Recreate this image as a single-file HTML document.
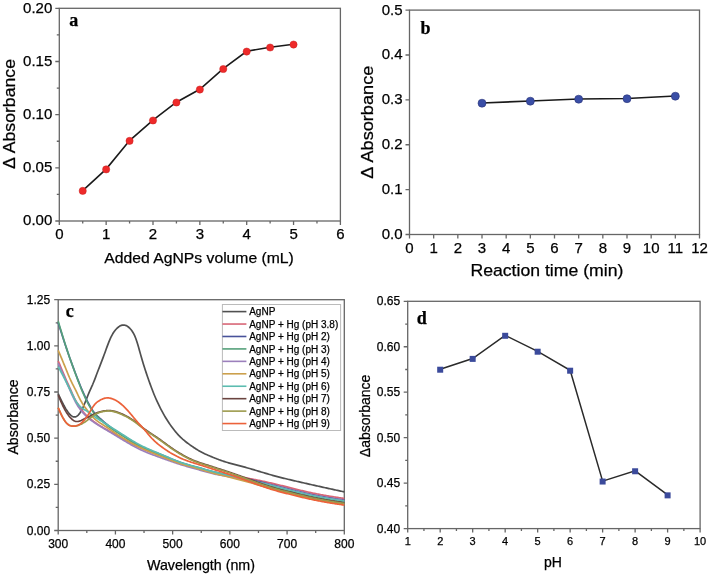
<!DOCTYPE html>
<html><head><meta charset="utf-8"><style>html,body{margin:0;padding:0;background:#fff;}svg{display:block;will-change:transform;} text{stroke:#000;stroke-width:0.25px;}</style></head><body>
<svg width="708" height="575" viewBox="0 0 708 575" font-family='"Liberation Sans", sans-serif' fill="#000">
<rect width="708" height="575" fill="#fff"/>
<rect x="59.30" y="8.30" width="281.10" height="212.70" fill="none" stroke="#666" stroke-width="1.3"/>
<path d="M59.30,221.00v4M106.15,221.00v4M153.00,221.00v4M199.85,221.00v4M246.70,221.00v4M293.55,221.00v4M340.40,221.00v4M82.72,221.00v2.5M129.57,221.00v2.5M176.42,221.00v2.5M223.27,221.00v2.5M270.12,221.00v2.5M316.97,221.00v2.5M59.30,221.00h-4M59.30,167.82h-4M59.30,114.65h-4M59.30,61.48h-4M59.30,8.30h-4M59.30,194.41h-2.5M59.30,141.24h-2.5M59.30,88.06h-2.5M59.30,34.89h-2.5" stroke="#666" stroke-width="1.3" fill="none"/>
<text x="59.30" y="239.30" text-anchor="middle" font-size="15">0</text>
<text x="106.15" y="239.30" text-anchor="middle" font-size="15">1</text>
<text x="153.00" y="239.30" text-anchor="middle" font-size="15">2</text>
<text x="199.85" y="239.30" text-anchor="middle" font-size="15">3</text>
<text x="246.70" y="239.30" text-anchor="middle" font-size="15">4</text>
<text x="293.55" y="239.30" text-anchor="middle" font-size="15">5</text>
<text x="340.40" y="239.30" text-anchor="middle" font-size="15">6</text>
<text x="52.30" y="225.20" text-anchor="end" font-size="15">0.00</text>
<text x="52.30" y="172.02" text-anchor="end" font-size="15">0.05</text>
<text x="52.30" y="118.85" text-anchor="end" font-size="15">0.10</text>
<text x="52.30" y="65.68" text-anchor="end" font-size="15">0.15</text>
<text x="52.30" y="12.50" text-anchor="end" font-size="15">0.20</text>
<path d="M82.72,190.58 L106.15,169.10 L129.57,140.60 L153.00,120.18 L176.42,102.21 L199.85,89.23 L223.27,68.71 L246.70,51.27 L270.12,47.22 L293.55,44.25" stroke="#1a1a1a" stroke-width="1.6" fill="none"/>
<circle cx="82.72" cy="190.88" r="3.6" fill="#ee2a2a" stroke="#c82020" stroke-width="0.5"/>
<circle cx="106.15" cy="169.40" r="3.6" fill="#ee2a2a" stroke="#c82020" stroke-width="0.5"/>
<circle cx="129.57" cy="140.90" r="3.6" fill="#ee2a2a" stroke="#c82020" stroke-width="0.5"/>
<circle cx="153.00" cy="120.48" r="3.6" fill="#ee2a2a" stroke="#c82020" stroke-width="0.5"/>
<circle cx="176.42" cy="102.51" r="3.6" fill="#ee2a2a" stroke="#c82020" stroke-width="0.5"/>
<circle cx="199.85" cy="89.53" r="3.6" fill="#ee2a2a" stroke="#c82020" stroke-width="0.5"/>
<circle cx="223.27" cy="69.01" r="3.6" fill="#ee2a2a" stroke="#c82020" stroke-width="0.5"/>
<circle cx="246.70" cy="51.57" r="3.6" fill="#ee2a2a" stroke="#c82020" stroke-width="0.5"/>
<circle cx="270.12" cy="47.52" r="3.6" fill="#ee2a2a" stroke="#c82020" stroke-width="0.5"/>
<circle cx="293.55" cy="44.55" r="3.6" fill="#ee2a2a" stroke="#c82020" stroke-width="0.5"/>
<text x="199.1" y="262.7" text-anchor="middle" font-size="15.5" textLength="189.5" lengthAdjust="spacingAndGlyphs">Added AgNPs volume (mL)</text>
<text transform="translate(15,114) rotate(-90)" text-anchor="middle" font-size="17" textLength="110" lengthAdjust="spacingAndGlyphs">Δ Absorbance</text>
<text x="69.3" y="25.9" font-family='"Liberation Serif", serif' font-weight="bold" font-size="18">a</text>
<rect x="409.50" y="10.10" width="290.00" height="224.40" fill="none" stroke="#666" stroke-width="1.3"/>
<path d="M409.50,234.50v4M433.67,234.50v4M457.83,234.50v4M482.00,234.50v4M506.17,234.50v4M530.33,234.50v4M554.50,234.50v4M578.67,234.50v4M602.83,234.50v4M627.00,234.50v4M651.17,234.50v4M675.33,234.50v4M699.50,234.50v4M409.50,234.50h-4M409.50,189.62h-4M409.50,144.74h-4M409.50,99.86h-4M409.50,54.98h-4M409.50,10.10h-4" stroke="#666" stroke-width="1.3" fill="none"/>
<text x="409.50" y="253.30" text-anchor="middle" font-size="15">0</text>
<text x="433.67" y="253.30" text-anchor="middle" font-size="15">1</text>
<text x="457.83" y="253.30" text-anchor="middle" font-size="15">2</text>
<text x="482.00" y="253.30" text-anchor="middle" font-size="15">3</text>
<text x="506.17" y="253.30" text-anchor="middle" font-size="15">4</text>
<text x="530.33" y="253.30" text-anchor="middle" font-size="15">5</text>
<text x="554.50" y="253.30" text-anchor="middle" font-size="15">6</text>
<text x="578.67" y="253.30" text-anchor="middle" font-size="15">7</text>
<text x="602.83" y="253.30" text-anchor="middle" font-size="15">8</text>
<text x="627.00" y="253.30" text-anchor="middle" font-size="15">9</text>
<text x="651.17" y="253.30" text-anchor="middle" font-size="15">10</text>
<text x="675.33" y="253.30" text-anchor="middle" font-size="15">11</text>
<text x="699.50" y="253.30" text-anchor="middle" font-size="15">12</text>
<text x="402.50" y="239.00" text-anchor="end" font-size="15">0.0</text>
<text x="402.50" y="194.12" text-anchor="end" font-size="15">0.1</text>
<text x="402.50" y="149.24" text-anchor="end" font-size="15">0.2</text>
<text x="402.50" y="104.36" text-anchor="end" font-size="15">0.3</text>
<text x="402.50" y="59.48" text-anchor="end" font-size="15">0.4</text>
<text x="402.50" y="14.60" text-anchor="end" font-size="15">0.5</text>
<path d="M482.00,103.00 L530.33,100.98 L578.67,99.01 L627.00,98.51 L675.33,96.00" stroke="#1a1a1a" stroke-width="1.6" fill="none"/>
<circle cx="482.00" cy="103.20" r="4.0" fill="#3a4ea6" stroke="#2a3478" stroke-width="0.6"/>
<circle cx="530.33" cy="101.18" r="4.0" fill="#3a4ea6" stroke="#2a3478" stroke-width="0.6"/>
<circle cx="578.67" cy="99.21" r="4.0" fill="#3a4ea6" stroke="#2a3478" stroke-width="0.6"/>
<circle cx="627.00" cy="98.71" r="4.0" fill="#3a4ea6" stroke="#2a3478" stroke-width="0.6"/>
<circle cx="675.33" cy="96.20" r="4.0" fill="#3a4ea6" stroke="#2a3478" stroke-width="0.6"/>
<text x="546.9" y="276.3" text-anchor="middle" font-size="17" textLength="153" lengthAdjust="spacingAndGlyphs">Reaction time (min)</text>
<text transform="translate(373,122.2) rotate(-90)" text-anchor="middle" font-size="17" textLength="113" lengthAdjust="spacingAndGlyphs">Δ Absorbance</text>
<text x="420.5" y="33.7" font-family='"Liberation Serif", serif' font-weight="bold" font-size="18">b</text>
<rect x="58.20" y="299.70" width="286.10" height="230.80" fill="none" stroke="#666" stroke-width="1.3"/>
<path d="M58.20,530.50v4M115.42,530.50v4M172.64,530.50v4M229.86,530.50v4M287.08,530.50v4M344.30,530.50v4M86.81,530.50v2.5M144.03,530.50v2.5M201.25,530.50v2.5M258.47,530.50v2.5M315.69,530.50v2.5M58.20,530.50h-4M58.20,484.34h-4M58.20,438.18h-4M58.20,392.02h-4M58.20,345.86h-4M58.20,299.70h-4M58.20,507.42h-2.5M58.20,461.26h-2.5M58.20,415.10h-2.5M58.20,368.94h-2.5M58.20,322.78h-2.5" stroke="#666" stroke-width="1.3" fill="none"/>
<text x="58.20" y="547.50" text-anchor="middle" font-size="12">300</text>
<text x="115.42" y="547.50" text-anchor="middle" font-size="12">400</text>
<text x="172.64" y="547.50" text-anchor="middle" font-size="12">500</text>
<text x="229.86" y="547.50" text-anchor="middle" font-size="12">600</text>
<text x="287.08" y="547.50" text-anchor="middle" font-size="12">700</text>
<text x="344.30" y="547.50" text-anchor="middle" font-size="12">800</text>
<text x="50.20" y="534.50" text-anchor="end" font-size="12">0.00</text>
<text x="50.20" y="488.34" text-anchor="end" font-size="12">0.25</text>
<text x="50.20" y="442.18" text-anchor="end" font-size="12">0.50</text>
<text x="50.20" y="396.02" text-anchor="end" font-size="12">0.75</text>
<text x="50.20" y="349.86" text-anchor="end" font-size="12">1.00</text>
<text x="50.20" y="303.70" text-anchor="end" font-size="12">1.25</text>
<path d="M58.20,393.70 L59.16,395.78 L60.11,397.84 L61.07,399.87 L62.03,401.84 L62.98,403.73 L63.94,405.54 L64.90,407.25 L65.85,408.84 L66.81,410.33 L67.77,411.71 L68.73,412.98 L69.68,414.11 L70.64,415.08 L71.60,415.88 L72.55,416.47 L73.51,416.83 L74.47,416.96 L75.42,416.84 L76.38,416.48 L77.34,415.87 L78.29,415.01 L79.25,413.91 L80.21,412.55 L81.16,410.96 L82.12,409.16 L83.08,407.17 L84.04,405.01 L84.99,402.71 L85.95,400.31 L86.91,397.88 L87.86,395.48 L88.82,393.15 L89.78,390.95 L90.73,388.83 L91.69,386.72 L92.65,384.54 L93.60,382.24 L94.56,379.82 L95.52,377.33 L96.47,374.80 L97.43,372.29 L98.39,369.81 L99.34,367.34 L100.30,364.88 L101.26,362.41 L102.22,359.91 L103.17,357.38 L104.13,354.80 L105.09,352.18 L106.04,349.53 L107.00,346.91 L107.96,344.36 L108.91,341.90 L109.87,339.59 L110.83,337.46 L111.78,335.54 L112.74,333.82 L113.70,332.30 L114.65,330.95 L115.61,329.76 L116.57,328.72 L117.53,327.81 L118.48,327.03 L119.44,326.35 L120.40,325.81 L121.35,325.40 L122.31,325.13 L123.27,325.01 L124.22,325.05 L125.18,325.25 L126.14,325.59 L127.09,326.09 L128.05,326.74 L129.01,327.53 L129.96,328.47 L130.92,329.54 L131.88,330.78 L132.83,332.23 L133.79,333.93 L134.75,335.93 L135.71,338.27 L136.66,340.98 L137.62,344.01 L138.58,347.27 L139.53,350.66 L140.49,354.11 L141.45,357.52 L142.40,360.81 L143.36,363.97 L144.32,367.03 L145.27,369.99 L146.23,372.87 L147.19,375.69 L148.14,378.45 L149.10,381.18 L150.06,383.86 L151.02,386.50 L151.97,389.07 L152.93,391.56 L153.89,393.97 L154.84,396.28 L155.80,398.50 L156.76,400.63 L157.71,402.69 L158.67,404.69 L159.63,406.63 L160.58,408.52 L161.54,410.36 L162.50,412.15 L163.45,413.90 L164.41,415.59 L165.37,417.22 L166.32,418.79 L167.28,420.32 L168.24,421.79 L169.20,423.22 L170.15,424.61 L171.11,425.96 L172.07,427.28 L173.02,428.56 L173.98,429.81 L174.94,431.01 L175.89,432.16 L176.85,433.27 L177.81,434.34 L178.76,435.36 L179.72,436.34 L180.68,437.29 L181.63,438.19 L182.59,439.06 L183.55,439.89 L184.51,440.70 L185.46,441.48 L186.42,442.23 L187.38,442.97 L188.33,443.68 L189.29,444.38 L190.25,445.07 L191.20,445.74 L192.16,446.41 L193.12,447.06 L194.07,447.70 L195.03,448.33 L195.99,448.94 L196.94,449.54 L197.90,450.12 L198.86,450.69 L199.81,451.24 L200.77,451.77 L201.73,452.28 L202.69,452.77 L203.64,453.25 L204.60,453.71 L205.56,454.15 L206.51,454.59 L207.47,455.01 L208.43,455.43 L209.38,455.83 L210.34,456.24 L211.30,456.64 L212.25,457.03 L213.21,457.43 L214.17,457.81 L215.12,458.20 L216.08,458.58 L217.04,458.95 L217.99,459.32 L218.95,459.68 L219.91,460.04 L220.87,460.38 L221.82,460.72 L222.78,461.04 L223.74,461.36 L224.69,461.67 L225.65,461.97 L226.61,462.26 L227.56,462.54 L228.52,462.82 L229.48,463.09 L230.43,463.36 L231.39,463.62 L232.35,463.88 L233.30,464.14 L234.26,464.39 L235.22,464.64 L236.18,464.89 L237.13,465.13 L238.09,465.38 L239.05,465.63 L240.00,465.88 L240.96,466.13 L241.92,466.39 L242.87,466.65 L243.83,466.91 L244.79,467.17 L245.74,467.44 L246.70,467.70 L247.66,467.97 L248.61,468.25 L249.57,468.52 L250.53,468.80 L251.48,469.08 L252.44,469.36 L253.40,469.64 L254.36,469.93 L255.31,470.21 L256.27,470.50 L257.23,470.79 L258.18,471.07 L259.14,471.36 L260.10,471.65 L261.05,471.94 L262.01,472.23 L262.97,472.52 L263.92,472.80 L264.88,473.09 L265.84,473.37 L266.79,473.66 L267.75,473.94 L268.71,474.22 L269.67,474.50 L270.62,474.77 L271.58,475.05 L272.54,475.32 L273.49,475.58 L274.45,475.85 L275.41,476.11 L276.36,476.36 L277.32,476.62 L278.28,476.87 L279.23,477.11 L280.19,477.36 L281.15,477.60 L282.10,477.84 L283.06,478.07 L284.02,478.31 L284.97,478.54 L285.93,478.77 L286.89,479.00 L287.85,479.23 L288.80,479.46 L289.76,479.68 L290.72,479.91 L291.67,480.13 L292.63,480.36 L293.59,480.58 L294.54,480.80 L295.50,481.03 L296.46,481.25 L297.41,481.47 L298.37,481.69 L299.33,481.91 L300.28,482.13 L301.24,482.35 L302.20,482.57 L303.16,482.79 L304.11,483.01 L305.07,483.23 L306.03,483.45 L306.98,483.66 L307.94,483.88 L308.90,484.10 L309.85,484.31 L310.81,484.53 L311.77,484.75 L312.72,484.96 L313.68,485.17 L314.64,485.39 L315.59,485.60 L316.55,485.82 L317.51,486.03 L318.46,486.24 L319.42,486.45 L320.38,486.67 L321.34,486.88 L322.29,487.09 L323.25,487.30 L324.21,487.51 L325.16,487.72 L326.12,487.93 L327.08,488.15 L328.03,488.36 L328.99,488.57 L329.95,488.78 L330.90,488.99 L331.86,489.19 L332.82,489.40 L333.77,489.61 L334.73,489.82 L335.69,490.03 L336.65,490.24 L337.60,490.45 L338.56,490.66 L339.52,490.87 L340.47,491.08 L341.43,491.28 L342.39,491.49 L343.34,491.70 L344.30,491.91" stroke="#505050" stroke-width="1.7" fill="none" stroke-linejoin="round"/>
<path d="M58.20,360.97 L59.16,363.20 L60.11,365.45 L61.07,367.73 L62.03,370.05 L62.98,372.36 L63.94,374.66 L64.90,376.92 L65.85,379.11 L66.81,381.26 L67.77,383.36 L68.73,385.46 L69.68,387.57 L70.64,389.70 L71.60,391.86 L72.55,394.01 L73.51,396.11 L74.47,398.10 L75.42,399.96 L76.38,401.68 L77.34,403.29 L78.29,404.82 L79.25,406.28 L80.21,407.69 L81.16,409.04 L82.12,410.34 L83.08,411.57 L84.04,412.73 L84.99,413.80 L85.95,414.81 L86.91,415.76 L87.86,416.66 L88.82,417.51 L89.78,418.34 L90.73,419.13 L91.69,419.91 L92.65,420.66 L93.60,421.39 L94.56,422.09 L95.52,422.78 L96.47,423.44 L97.43,424.09 L98.39,424.72 L99.34,425.34 L100.30,425.94 L101.26,426.53 L102.22,427.10 L103.17,427.67 L104.13,428.22 L105.09,428.77 L106.04,429.31 L107.00,429.84 L107.96,430.36 L108.91,430.89 L109.87,431.41 L110.83,431.93 L111.78,432.45 L112.74,432.97 L113.70,433.49 L114.65,434.01 L115.61,434.54 L116.57,435.08 L117.53,435.61 L118.48,436.15 L119.44,436.70 L120.40,437.24 L121.35,437.78 L122.31,438.33 L123.27,438.88 L124.22,439.42 L125.18,439.96 L126.14,440.51 L127.09,441.05 L128.05,441.58 L129.01,442.11 L129.96,442.64 L130.92,443.17 L131.88,443.68 L132.83,444.19 L133.79,444.70 L134.75,445.20 L135.71,445.69 L136.66,446.17 L137.62,446.64 L138.58,447.10 L139.53,447.55 L140.49,447.99 L141.45,448.42 L142.40,448.84 L143.36,449.25 L144.32,449.65 L145.27,450.04 L146.23,450.43 L147.19,450.81 L148.14,451.18 L149.10,451.55 L150.06,451.91 L151.02,452.27 L151.97,452.62 L152.93,452.97 L153.89,453.32 L154.84,453.67 L155.80,454.02 L156.76,454.37 L157.71,454.72 L158.67,455.07 L159.63,455.43 L160.58,455.78 L161.54,456.14 L162.50,456.51 L163.45,456.88 L164.41,457.25 L165.37,457.62 L166.32,457.99 L167.28,458.36 L168.24,458.73 L169.20,459.11 L170.15,459.48 L171.11,459.85 L172.07,460.21 L173.02,460.58 L173.98,460.94 L174.94,461.29 L175.89,461.64 L176.85,461.99 L177.81,462.33 L178.76,462.66 L179.72,462.98 L180.68,463.30 L181.63,463.61 L182.59,463.91 L183.55,464.20 L184.51,464.48 L185.46,464.76 L186.42,465.03 L187.38,465.29 L188.33,465.55 L189.29,465.81 L190.25,466.06 L191.20,466.31 L192.16,466.56 L193.12,466.81 L194.07,467.06 L195.03,467.31 L195.99,467.56 L196.94,467.81 L197.90,468.07 L198.86,468.33 L199.81,468.60 L200.77,468.87 L201.73,469.15 L202.69,469.43 L203.64,469.71 L204.60,469.98 L205.56,470.26 L206.51,470.53 L207.47,470.79 L208.43,471.04 L209.38,471.28 L210.34,471.52 L211.30,471.74 L212.25,471.97 L213.21,472.18 L214.17,472.39 L215.12,472.58 L216.08,472.78 L217.04,472.97 L217.99,473.15 L218.95,473.32 L219.91,473.50 L220.87,473.67 L221.82,473.83 L222.78,473.99 L223.74,474.15 L224.69,474.31 L225.65,474.47 L226.61,474.62 L227.56,474.77 L228.52,474.93 L229.48,475.08 L230.43,475.23 L231.39,475.39 L232.35,475.54 L233.30,475.69 L234.26,475.85 L235.22,476.01 L236.18,476.17 L237.13,476.33 L238.09,476.49 L239.05,476.65 L240.00,476.82 L240.96,476.99 L241.92,477.15 L242.87,477.32 L243.83,477.50 L244.79,477.67 L245.74,477.84 L246.70,478.02 L247.66,478.20 L248.61,478.38 L249.57,478.56 L250.53,478.74 L251.48,478.92 L252.44,479.10 L253.40,479.29 L254.36,479.47 L255.31,479.66 L256.27,479.85 L257.23,480.04 L258.18,480.23 L259.14,480.43 L260.10,480.63 L261.05,480.82 L262.01,481.02 L262.97,481.23 L263.92,481.43 L264.88,481.64 L265.84,481.85 L266.79,482.06 L267.75,482.27 L268.71,482.49 L269.67,482.71 L270.62,482.93 L271.58,483.15 L272.54,483.37 L273.49,483.60 L274.45,483.83 L275.41,484.05 L276.36,484.28 L277.32,484.52 L278.28,484.75 L279.23,484.98 L280.19,485.22 L281.15,485.46 L282.10,485.69 L283.06,485.93 L284.02,486.17 L284.97,486.41 L285.93,486.65 L286.89,486.89 L287.85,487.14 L288.80,487.38 L289.76,487.62 L290.72,487.86 L291.67,488.10 L292.63,488.34 L293.59,488.58 L294.54,488.82 L295.50,489.06 L296.46,489.29 L297.41,489.53 L298.37,489.76 L299.33,490.00 L300.28,490.23 L301.24,490.46 L302.20,490.69 L303.16,490.92 L304.11,491.14 L305.07,491.36 L306.03,491.58 L306.98,491.80 L307.94,492.02 L308.90,492.23 L309.85,492.44 L310.81,492.65 L311.77,492.85 L312.72,493.05 L313.68,493.25 L314.64,493.45 L315.59,493.64 L316.55,493.83 L317.51,494.02 L318.46,494.20 L319.42,494.38 L320.38,494.56 L321.34,494.74 L322.29,494.92 L323.25,495.09 L324.21,495.26 L325.16,495.43 L326.12,495.60 L327.08,495.76 L328.03,495.92 L328.99,496.08 L329.95,496.24 L330.90,496.40 L331.86,496.55 L332.82,496.70 L333.77,496.86 L334.73,497.01 L335.69,497.16 L336.65,497.30 L337.60,497.45 L338.56,497.60 L339.52,497.74 L340.47,497.89 L341.43,498.03 L342.39,498.18 L343.34,498.32 L344.30,498.47" stroke="#d86676" stroke-width="1.7" fill="none" stroke-linejoin="round"/>
<path d="M58.20,322.78 L59.16,325.80 L60.11,328.81 L61.07,331.81 L62.03,334.79 L62.98,337.76 L63.94,340.71 L64.90,343.64 L65.85,346.53 L66.81,349.39 L67.77,352.21 L68.73,354.98 L69.68,357.71 L70.64,360.39 L71.60,363.02 L72.55,365.60 L73.51,368.16 L74.47,370.69 L75.42,373.20 L76.38,375.71 L77.34,378.21 L78.29,380.68 L79.25,383.11 L80.21,385.48 L81.16,387.78 L82.12,390.01 L83.08,392.16 L84.04,394.25 L84.99,396.29 L85.95,398.29 L86.91,400.25 L87.86,402.15 L88.82,403.99 L89.78,405.75 L90.73,407.42 L91.69,408.98 L92.65,410.42 L93.60,411.73 L94.56,412.94 L95.52,414.05 L96.47,415.07 L97.43,416.03 L98.39,416.94 L99.34,417.81 L100.30,418.65 L101.26,419.49 L102.22,420.34 L103.17,421.18 L104.13,422.02 L105.09,422.84 L106.04,423.66 L107.00,424.45 L107.96,425.23 L108.91,425.97 L109.87,426.70 L110.83,427.40 L111.78,428.07 L112.74,428.74 L113.70,429.38 L114.65,430.02 L115.61,430.64 L116.57,431.25 L117.53,431.86 L118.48,432.47 L119.44,433.07 L120.40,433.68 L121.35,434.29 L122.31,434.91 L123.27,435.53 L124.22,436.16 L125.18,436.79 L126.14,437.42 L127.09,438.05 L128.05,438.67 L129.01,439.30 L129.96,439.92 L130.92,440.54 L131.88,441.15 L132.83,441.75 L133.79,442.35 L134.75,442.93 L135.71,443.51 L136.66,444.07 L137.62,444.62 L138.58,445.15 L139.53,445.67 L140.49,446.17 L141.45,446.66 L142.40,447.13 L143.36,447.59 L144.32,448.03 L145.27,448.46 L146.23,448.88 L147.19,449.28 L148.14,449.68 L149.10,450.07 L150.06,450.45 L151.02,450.83 L151.97,451.20 L152.93,451.57 L153.89,451.93 L154.84,452.29 L155.80,452.66 L156.76,453.02 L157.71,453.38 L158.67,453.75 L159.63,454.11 L160.58,454.49 L161.54,454.86 L162.50,455.25 L163.45,455.64 L164.41,456.03 L165.37,456.42 L166.32,456.82 L167.28,457.22 L168.24,457.62 L169.20,458.02 L170.15,458.42 L171.11,458.82 L172.07,459.21 L173.02,459.60 L173.98,459.99 L174.94,460.38 L175.89,460.75 L176.85,461.13 L177.81,461.49 L178.76,461.85 L179.72,462.20 L180.68,462.54 L181.63,462.87 L182.59,463.18 L183.55,463.49 L184.51,463.79 L185.46,464.08 L186.42,464.37 L187.38,464.64 L188.33,464.92 L189.29,465.18 L190.25,465.45 L191.20,465.70 L192.16,465.96 L193.12,466.22 L194.07,466.47 L195.03,466.73 L195.99,466.99 L196.94,467.24 L197.90,467.51 L198.86,467.77 L199.81,468.04 L200.77,468.32 L201.73,468.60 L202.69,468.89 L203.64,469.17 L204.60,469.45 L205.56,469.74 L206.51,470.01 L207.47,470.28 L208.43,470.55 L209.38,470.81 L210.34,471.06 L211.30,471.31 L212.25,471.55 L213.21,471.78 L214.17,472.01 L215.12,472.23 L216.08,472.45 L217.04,472.66 L217.99,472.87 L218.95,473.08 L219.91,473.28 L220.87,473.47 L221.82,473.67 L222.78,473.86 L223.74,474.05 L224.69,474.24 L225.65,474.43 L226.61,474.62 L227.56,474.81 L228.52,475.00 L229.48,475.19 L230.43,475.38 L231.39,475.57 L232.35,475.76 L233.30,475.95 L234.26,476.14 L235.22,476.34 L236.18,476.54 L237.13,476.74 L238.09,476.94 L239.05,477.14 L240.00,477.34 L240.96,477.55 L241.92,477.76 L242.87,477.97 L243.83,478.18 L244.79,478.39 L245.74,478.60 L246.70,478.82 L247.66,479.03 L248.61,479.25 L249.57,479.47 L250.53,479.68 L251.48,479.90 L252.44,480.12 L253.40,480.34 L254.36,480.57 L255.31,480.79 L256.27,481.01 L257.23,481.24 L258.18,481.46 L259.14,481.69 L260.10,481.91 L261.05,482.14 L262.01,482.37 L262.97,482.60 L263.92,482.83 L264.88,483.07 L265.84,483.30 L266.79,483.53 L267.75,483.77 L268.71,484.01 L269.67,484.24 L270.62,484.48 L271.58,484.72 L272.54,484.96 L273.49,485.20 L274.45,485.44 L275.41,485.68 L276.36,485.92 L277.32,486.16 L278.28,486.40 L279.23,486.64 L280.19,486.88 L281.15,487.12 L282.10,487.36 L283.06,487.60 L284.02,487.84 L284.97,488.08 L285.93,488.32 L286.89,488.56 L287.85,488.80 L288.80,489.04 L289.76,489.28 L290.72,489.52 L291.67,489.76 L292.63,490.00 L293.59,490.24 L294.54,490.48 L295.50,490.71 L296.46,490.95 L297.41,491.19 L298.37,491.42 L299.33,491.66 L300.28,491.89 L301.24,492.12 L302.20,492.35 L303.16,492.57 L304.11,492.80 L305.07,493.02 L306.03,493.24 L306.98,493.46 L307.94,493.68 L308.90,493.89 L309.85,494.10 L310.81,494.31 L311.77,494.51 L312.72,494.71 L313.68,494.91 L314.64,495.11 L315.59,495.30 L316.55,495.49 L317.51,495.68 L318.46,495.86 L319.42,496.05 L320.38,496.23 L321.34,496.40 L322.29,496.58 L323.25,496.75 L324.21,496.92 L325.16,497.09 L326.12,497.26 L327.08,497.42 L328.03,497.58 L328.99,497.74 L329.95,497.90 L330.90,498.06 L331.86,498.21 L332.82,498.37 L333.77,498.52 L334.73,498.67 L335.69,498.82 L336.65,498.97 L337.60,499.11 L338.56,499.26 L339.52,499.40 L340.47,499.55 L341.43,499.69 L342.39,499.84 L343.34,499.98 L344.30,500.13" stroke="#48529a" stroke-width="1.7" fill="none" stroke-linejoin="round"/>
<path d="M58.20,321.31 L59.16,324.50 L60.11,327.69 L61.07,330.86 L62.03,334.00 L62.98,337.11 L63.94,340.18 L64.90,343.20 L65.85,346.18 L66.81,349.12 L67.77,352.01 L68.73,354.86 L69.68,357.66 L70.64,360.43 L71.60,363.15 L72.55,365.84 L73.51,368.50 L74.47,371.12 L75.42,373.72 L76.38,376.29 L77.34,378.83 L78.29,381.33 L79.25,383.79 L80.21,386.20 L81.16,388.56 L82.12,390.86 L83.08,393.09 L84.04,395.26 L84.99,397.36 L85.95,399.38 L86.91,401.33 L87.86,403.20 L88.82,404.99 L89.78,406.68 L90.73,408.28 L91.69,409.77 L92.65,411.16 L93.60,412.44 L94.56,413.62 L95.52,414.72 L96.47,415.74 L97.43,416.71 L98.39,417.63 L99.34,418.52 L100.30,419.38 L101.26,420.23 L102.22,421.08 L103.17,421.93 L104.13,422.77 L105.09,423.59 L106.04,424.40 L107.00,425.20 L107.96,425.97 L108.91,426.71 L109.87,427.43 L110.83,428.13 L111.78,428.81 L112.74,429.48 L113.70,430.12 L114.65,430.76 L115.61,431.38 L116.57,432.00 L117.53,432.61 L118.48,433.21 L119.44,433.82 L120.40,434.42 L121.35,435.03 L122.31,435.64 L123.27,436.26 L124.22,436.88 L125.18,437.50 L126.14,438.12 L127.09,438.74 L128.05,439.35 L129.01,439.97 L129.96,440.58 L130.92,441.18 L131.88,441.78 L132.83,442.37 L133.79,442.96 L134.75,443.53 L135.71,444.10 L136.66,444.65 L137.62,445.19 L138.58,445.72 L139.53,446.23 L140.49,446.73 L141.45,447.21 L142.40,447.68 L143.36,448.13 L144.32,448.57 L145.27,449.00 L146.23,449.42 L147.19,449.83 L148.14,450.23 L149.10,450.62 L150.06,451.00 L151.02,451.38 L151.97,451.75 L152.93,452.12 L153.89,452.49 L154.84,452.85 L155.80,453.22 L156.76,453.58 L157.71,453.94 L158.67,454.30 L159.63,454.67 L160.58,455.04 L161.54,455.42 L162.50,455.79 L163.45,456.18 L164.41,456.56 L165.37,456.95 L166.32,457.34 L167.28,457.73 L168.24,458.12 L169.20,458.51 L170.15,458.90 L171.11,459.29 L172.07,459.67 L173.02,460.05 L173.98,460.43 L174.94,460.80 L175.89,461.17 L176.85,461.53 L177.81,461.89 L178.76,462.24 L179.72,462.58 L180.68,462.91 L181.63,463.24 L182.59,463.55 L183.55,463.85 L184.51,464.15 L185.46,464.44 L186.42,464.72 L187.38,465.00 L188.33,465.27 L189.29,465.53 L190.25,465.79 L191.20,466.05 L192.16,466.31 L193.12,466.57 L194.07,466.83 L195.03,467.08 L195.99,467.34 L196.94,467.61 L197.90,467.87 L198.86,468.14 L199.81,468.41 L200.77,468.69 L201.73,468.98 L202.69,469.26 L203.64,469.55 L204.60,469.84 L205.56,470.12 L206.51,470.41 L207.47,470.68 L208.43,470.96 L209.38,471.22 L210.34,471.49 L211.30,471.74 L212.25,471.99 L213.21,472.24 L214.17,472.48 L215.12,472.72 L216.08,472.95 L217.04,473.18 L217.99,473.40 L218.95,473.62 L219.91,473.84 L220.87,474.06 L221.82,474.27 L222.78,474.48 L223.74,474.69 L224.69,474.90 L225.65,475.11 L226.61,475.32 L227.56,475.52 L228.52,475.73 L229.48,475.94 L230.43,476.15 L231.39,476.36 L232.35,476.58 L233.30,476.79 L234.26,477.01 L235.22,477.23 L236.18,477.45 L237.13,477.67 L238.09,477.89 L239.05,478.12 L240.00,478.34 L240.96,478.57 L241.92,478.80 L242.87,479.04 L243.83,479.27 L244.79,479.50 L245.74,479.74 L246.70,479.98 L247.66,480.21 L248.61,480.45 L249.57,480.69 L250.53,480.93 L251.48,481.17 L252.44,481.41 L253.40,481.65 L254.36,481.89 L255.31,482.14 L256.27,482.38 L257.23,482.62 L258.18,482.87 L259.14,483.11 L260.10,483.36 L261.05,483.60 L262.01,483.85 L262.97,484.10 L263.92,484.34 L264.88,484.59 L265.84,484.84 L266.79,485.09 L267.75,485.33 L268.71,485.58 L269.67,485.83 L270.62,486.08 L271.58,486.33 L272.54,486.58 L273.49,486.82 L274.45,487.07 L275.41,487.32 L276.36,487.56 L277.32,487.81 L278.28,488.05 L279.23,488.30 L280.19,488.54 L281.15,488.78 L282.10,489.03 L283.06,489.27 L284.02,489.51 L284.97,489.75 L285.93,489.99 L286.89,490.23 L287.85,490.46 L288.80,490.70 L289.76,490.94 L290.72,491.18 L291.67,491.42 L292.63,491.66 L293.59,491.90 L294.54,492.14 L295.50,492.37 L296.46,492.61 L297.41,492.85 L298.37,493.08 L299.33,493.31 L300.28,493.55 L301.24,493.78 L302.20,494.01 L303.16,494.23 L304.11,494.46 L305.07,494.68 L306.03,494.90 L306.98,495.12 L307.94,495.34 L308.90,495.55 L309.85,495.76 L310.81,495.97 L311.77,496.17 L312.72,496.38 L313.68,496.57 L314.64,496.77 L315.59,496.96 L316.55,497.15 L317.51,497.34 L318.46,497.53 L319.42,497.71 L320.38,497.89 L321.34,498.07 L322.29,498.24 L323.25,498.42 L324.21,498.59 L325.16,498.75 L326.12,498.92 L327.08,499.08 L328.03,499.25 L328.99,499.41 L329.95,499.56 L330.90,499.72 L331.86,499.87 L332.82,500.03 L333.77,500.18 L334.73,500.33 L335.69,500.48 L336.65,500.63 L337.60,500.77 L338.56,500.92 L339.52,501.07 L340.47,501.21 L341.43,501.36 L342.39,501.50 L343.34,501.64 L344.30,501.79" stroke="#55a07a" stroke-width="1.7" fill="none" stroke-linejoin="round"/>
<path d="M58.20,363.36 L59.16,365.39 L60.11,367.45 L61.07,369.57 L62.03,371.74 L62.98,373.95 L63.94,376.18 L64.90,378.42 L65.85,380.66 L66.81,382.89 L67.77,385.11 L68.73,387.32 L69.68,389.51 L70.64,391.69 L71.60,393.84 L72.55,395.95 L73.51,398.00 L74.47,399.96 L75.42,401.82 L76.38,403.56 L77.34,405.19 L78.29,406.70 L79.25,408.11 L80.21,409.43 L81.16,410.67 L82.12,411.83 L83.08,412.93 L84.04,413.97 L84.99,414.96 L85.95,415.91 L86.91,416.80 L87.86,417.66 L88.82,418.48 L89.78,419.26 L90.73,420.01 L91.69,420.73 L92.65,421.43 L93.60,422.10 L94.56,422.75 L95.52,423.39 L96.47,424.01 L97.43,424.62 L98.39,425.21 L99.34,425.80 L100.30,426.38 L101.26,426.95 L102.22,427.52 L103.17,428.09 L104.13,428.65 L105.09,429.22 L106.04,429.79 L107.00,430.35 L107.96,430.92 L108.91,431.49 L109.87,432.06 L110.83,432.63 L111.78,433.20 L112.74,433.78 L113.70,434.36 L114.65,434.94 L115.61,435.52 L116.57,436.10 L117.53,436.69 L118.48,437.27 L119.44,437.85 L120.40,438.44 L121.35,439.02 L122.31,439.60 L123.27,440.18 L124.22,440.75 L125.18,441.32 L126.14,441.89 L127.09,442.45 L128.05,443.01 L129.01,443.57 L129.96,444.12 L130.92,444.66 L131.88,445.20 L132.83,445.73 L133.79,446.25 L134.75,446.77 L135.71,447.27 L136.66,447.77 L137.62,448.26 L138.58,448.74 L139.53,449.21 L140.49,449.66 L141.45,450.11 L142.40,450.55 L143.36,450.98 L144.32,451.39 L145.27,451.80 L146.23,452.21 L147.19,452.60 L148.14,452.99 L149.10,453.37 L150.06,453.75 L151.02,454.12 L151.97,454.48 L152.93,454.84 L153.89,455.20 L154.84,455.55 L155.80,455.90 L156.76,456.25 L157.71,456.60 L158.67,456.95 L159.63,457.29 L160.58,457.64 L161.54,457.98 L162.50,458.33 L163.45,458.67 L164.41,459.02 L165.37,459.36 L166.32,459.71 L167.28,460.05 L168.24,460.39 L169.20,460.73 L170.15,461.07 L171.11,461.41 L172.07,461.74 L173.02,462.07 L173.98,462.40 L174.94,462.73 L175.89,463.05 L176.85,463.37 L177.81,463.68 L178.76,464.00 L179.72,464.30 L180.68,464.61 L181.63,464.90 L182.59,465.19 L183.55,465.48 L184.51,465.77 L185.46,466.04 L186.42,466.32 L187.38,466.59 L188.33,466.86 L189.29,467.13 L190.25,467.40 L191.20,467.66 L192.16,467.93 L193.12,468.19 L194.07,468.46 L195.03,468.72 L195.99,468.99 L196.94,469.26 L197.90,469.53 L198.86,469.80 L199.81,470.07 L200.77,470.35 L201.73,470.63 L202.69,470.91 L203.64,471.19 L204.60,471.47 L205.56,471.75 L206.51,472.02 L207.47,472.28 L208.43,472.53 L209.38,472.78 L210.34,473.02 L211.30,473.26 L212.25,473.48 L213.21,473.70 L214.17,473.92 L215.12,474.12 L216.08,474.32 L217.04,474.52 L217.99,474.71 L218.95,474.90 L219.91,475.08 L220.87,475.25 L221.82,475.43 L222.78,475.60 L223.74,475.77 L224.69,475.94 L225.65,476.10 L226.61,476.27 L227.56,476.43 L228.52,476.60 L229.48,476.76 L230.43,476.92 L231.39,477.09 L232.35,477.25 L233.30,477.42 L234.26,477.59 L235.22,477.76 L236.18,477.93 L237.13,478.10 L238.09,478.28 L239.05,478.45 L240.00,478.63 L240.96,478.81 L241.92,478.99 L242.87,479.17 L243.83,479.35 L244.79,479.54 L245.74,479.73 L246.70,479.91 L247.66,480.10 L248.61,480.29 L249.57,480.48 L250.53,480.68 L251.48,480.87 L252.44,481.06 L253.40,481.26 L254.36,481.46 L255.31,481.66 L256.27,481.86 L257.23,482.06 L258.18,482.26 L259.14,482.46 L260.10,482.67 L261.05,482.88 L262.01,483.09 L262.97,483.30 L263.92,483.51 L264.88,483.73 L265.84,483.94 L266.79,484.16 L267.75,484.38 L268.71,484.61 L269.67,484.83 L270.62,485.06 L271.58,485.28 L272.54,485.51 L273.49,485.74 L274.45,485.97 L275.41,486.20 L276.36,486.44 L277.32,486.67 L278.28,486.91 L279.23,487.14 L280.19,487.38 L281.15,487.62 L282.10,487.86 L283.06,488.09 L284.02,488.33 L284.97,488.57 L285.93,488.82 L286.89,489.06 L287.85,489.30 L288.80,489.54 L289.76,489.78 L290.72,490.02 L291.67,490.26 L292.63,490.50 L293.59,490.74 L294.54,490.98 L295.50,491.22 L296.46,491.45 L297.41,491.69 L298.37,491.92 L299.33,492.16 L300.28,492.39 L301.24,492.62 L302.20,492.85 L303.16,493.07 L304.11,493.30 L305.07,493.52 L306.03,493.74 L306.98,493.96 L307.94,494.18 L308.90,494.39 L309.85,494.60 L310.81,494.81 L311.77,495.01 L312.72,495.21 L313.68,495.41 L314.64,495.61 L315.59,495.80 L316.55,495.99 L317.51,496.18 L318.46,496.36 L319.42,496.55 L320.38,496.73 L321.34,496.90 L322.29,497.08 L323.25,497.25 L324.21,497.42 L325.16,497.59 L326.12,497.76 L327.08,497.92 L328.03,498.08 L328.99,498.24 L329.95,498.40 L330.90,498.56 L331.86,498.71 L332.82,498.86 L333.77,499.02 L334.73,499.17 L335.69,499.32 L336.65,499.46 L337.60,499.61 L338.56,499.76 L339.52,499.90 L340.47,500.05 L341.43,500.19 L342.39,500.34 L343.34,500.48 L344.30,500.63" stroke="#9c80bc" stroke-width="1.7" fill="none" stroke-linejoin="round"/>
<path d="M58.20,350.46 L59.16,352.66 L60.11,354.89 L61.07,357.14 L62.03,359.42 L62.98,361.73 L63.94,364.06 L64.90,366.42 L65.85,368.79 L66.81,371.17 L67.77,373.51 L68.73,375.80 L69.68,378.02 L70.64,380.12 L71.60,382.11 L72.55,384.02 L73.51,385.90 L74.47,387.78 L75.42,389.69 L76.38,391.68 L77.34,393.73 L78.29,395.76 L79.25,397.73 L80.21,399.57 L81.16,401.30 L82.12,402.93 L83.08,404.45 L84.04,405.90 L84.99,407.28 L85.95,408.60 L86.91,409.88 L87.86,411.13 L88.82,412.34 L89.78,413.53 L90.73,414.68 L91.69,415.78 L92.65,416.82 L93.60,417.82 L94.56,418.75 L95.52,419.61 L96.47,420.41 L97.43,421.15 L98.39,421.84 L99.34,422.50 L100.30,423.13 L101.26,423.74 L102.22,424.34 L103.17,424.94 L104.13,425.55 L105.09,426.17 L106.04,426.81 L107.00,427.46 L107.96,428.11 L108.91,428.77 L109.87,429.43 L110.83,430.09 L111.78,430.75 L112.74,431.40 L113.70,432.05 L114.65,432.69 L115.61,433.33 L116.57,433.96 L117.53,434.59 L118.48,435.21 L119.44,435.82 L120.40,436.43 L121.35,437.03 L122.31,437.63 L123.27,438.22 L124.22,438.80 L125.18,439.37 L126.14,439.94 L127.09,440.50 L128.05,441.06 L129.01,441.61 L129.96,442.15 L130.92,442.68 L131.88,443.21 L132.83,443.73 L133.79,444.25 L134.75,444.75 L135.71,445.25 L136.66,445.74 L137.62,446.23 L138.58,446.70 L139.53,447.17 L140.49,447.63 L141.45,448.09 L142.40,448.54 L143.36,448.98 L144.32,449.41 L145.27,449.84 L146.23,450.26 L147.19,450.67 L148.14,451.08 L149.10,451.49 L150.06,451.89 L151.02,452.29 L151.97,452.69 L152.93,453.08 L153.89,453.47 L154.84,453.86 L155.80,454.24 L156.76,454.62 L157.71,455.00 L158.67,455.39 L159.63,455.77 L160.58,456.15 L161.54,456.53 L162.50,456.91 L163.45,457.29 L164.41,457.67 L165.37,458.04 L166.32,458.42 L167.28,458.80 L168.24,459.17 L169.20,459.54 L170.15,459.91 L171.11,460.27 L172.07,460.63 L173.02,460.99 L173.98,461.34 L174.94,461.69 L175.89,462.04 L176.85,462.38 L177.81,462.71 L178.76,463.04 L179.72,463.36 L180.68,463.67 L181.63,463.98 L182.59,464.28 L183.55,464.57 L184.51,464.86 L185.46,465.14 L186.42,465.42 L187.38,465.69 L188.33,465.96 L189.29,466.22 L190.25,466.49 L191.20,466.75 L192.16,467.01 L193.12,467.27 L194.07,467.53 L195.03,467.80 L195.99,468.06 L196.94,468.33 L197.90,468.60 L198.86,468.87 L199.81,469.15 L200.77,469.43 L201.73,469.72 L202.69,470.01 L203.64,470.30 L204.60,470.59 L205.56,470.89 L206.51,471.17 L207.47,471.46 L208.43,471.74 L209.38,472.02 L210.34,472.29 L211.30,472.56 L212.25,472.83 L213.21,473.09 L214.17,473.35 L215.12,473.60 L216.08,473.85 L217.04,474.10 L217.99,474.34 L218.95,474.58 L219.91,474.82 L220.87,475.05 L221.82,475.29 L222.78,475.52 L223.74,475.75 L224.69,475.99 L225.65,476.22 L226.61,476.45 L227.56,476.69 L228.52,476.92 L229.48,477.16 L230.43,477.39 L231.39,477.63 L232.35,477.87 L233.30,478.11 L234.26,478.35 L235.22,478.60 L236.18,478.85 L237.13,479.10 L238.09,479.35 L239.05,479.60 L240.00,479.86 L240.96,480.11 L241.92,480.37 L242.87,480.63 L243.83,480.89 L244.79,481.16 L245.74,481.42 L246.70,481.68 L247.66,481.95 L248.61,482.21 L249.57,482.48 L250.53,482.75 L251.48,483.01 L252.44,483.28 L253.40,483.55 L254.36,483.81 L255.31,484.08 L256.27,484.35 L257.23,484.61 L258.18,484.88 L259.14,485.15 L260.10,485.42 L261.05,485.68 L262.01,485.95 L262.97,486.22 L263.92,486.48 L264.88,486.75 L265.84,487.01 L266.79,487.28 L267.75,487.54 L268.71,487.80 L269.67,488.07 L270.62,488.33 L271.58,488.59 L272.54,488.85 L273.49,489.10 L274.45,489.36 L275.41,489.62 L276.36,489.87 L277.32,490.12 L278.28,490.37 L279.23,490.62 L280.19,490.87 L281.15,491.11 L282.10,491.36 L283.06,491.60 L284.02,491.84 L284.97,492.08 L285.93,492.32 L286.89,492.56 L287.85,492.79 L288.80,493.03 L289.76,493.27 L290.72,493.51 L291.67,493.74 L292.63,493.98 L293.59,494.22 L294.54,494.46 L295.50,494.70 L296.46,494.93 L297.41,495.17 L298.37,495.40 L299.33,495.64 L300.28,495.87 L301.24,496.10 L302.20,496.33 L303.16,496.56 L304.11,496.78 L305.07,497.01 L306.03,497.23 L306.98,497.45 L307.94,497.66 L308.90,497.88 L309.85,498.09 L310.81,498.30 L311.77,498.50 L312.72,498.70 L313.68,498.90 L314.64,499.10 L315.59,499.29 L316.55,499.48 L317.51,499.67 L318.46,499.85 L319.42,500.04 L320.38,500.22 L321.34,500.39 L322.29,500.57 L323.25,500.74 L324.21,500.91 L325.16,501.08 L326.12,501.25 L327.08,501.41 L328.03,501.57 L328.99,501.73 L329.95,501.89 L330.90,502.05 L331.86,502.20 L332.82,502.35 L333.77,502.51 L334.73,502.66 L335.69,502.80 L336.65,502.95 L337.60,503.10 L338.56,503.25 L339.52,503.39 L340.47,503.54 L341.43,503.68 L342.39,503.83 L343.34,503.97 L344.30,504.12" stroke="#cca04c" stroke-width="1.7" fill="none" stroke-linejoin="round"/>
<path d="M58.20,366.53 L59.16,368.33 L60.11,370.15 L61.07,371.99 L62.03,373.85 L62.98,375.72 L63.94,377.59 L64.90,379.45 L65.85,381.29 L66.81,383.14 L67.77,384.99 L68.73,386.87 L69.68,388.80 L70.64,390.78 L71.60,392.81 L72.55,394.84 L73.51,396.81 L74.47,398.68 L75.42,400.38 L76.38,401.92 L77.34,403.30 L78.29,404.53 L79.25,405.61 L80.21,406.56 L81.16,407.39 L82.12,408.13 L83.08,408.80 L84.04,409.41 L84.99,409.99 L85.95,410.56 L86.91,411.14 L87.86,411.75 L88.82,412.40 L89.78,413.08 L90.73,413.78 L91.69,414.49 L92.65,415.21 L93.60,415.92 L94.56,416.62 L95.52,417.30 L96.47,417.96 L97.43,418.59 L98.39,419.21 L99.34,419.81 L100.30,420.41 L101.26,421.00 L102.22,421.58 L103.17,422.17 L104.13,422.76 L105.09,423.36 L106.04,423.96 L107.00,424.57 L107.96,425.18 L108.91,425.79 L109.87,426.41 L110.83,427.02 L111.78,427.64 L112.74,428.25 L113.70,428.86 L114.65,429.47 L115.61,430.08 L116.57,430.69 L117.53,431.30 L118.48,431.91 L119.44,432.52 L120.40,433.13 L121.35,433.74 L122.31,434.35 L123.27,434.96 L124.22,435.57 L125.18,436.18 L126.14,436.79 L127.09,437.40 L128.05,438.00 L129.01,438.60 L129.96,439.20 L130.92,439.79 L131.88,440.37 L132.83,440.95 L133.79,441.52 L134.75,442.08 L135.71,442.63 L136.66,443.18 L137.62,443.71 L138.58,444.24 L139.53,444.75 L140.49,445.25 L141.45,445.74 L142.40,446.22 L143.36,446.69 L144.32,447.14 L145.27,447.59 L146.23,448.03 L147.19,448.46 L148.14,448.89 L149.10,449.30 L150.06,449.72 L151.02,450.13 L151.97,450.53 L152.93,450.93 L153.89,451.33 L154.84,451.73 L155.80,452.12 L156.76,452.52 L157.71,452.91 L158.67,453.31 L159.63,453.71 L160.58,454.11 L161.54,454.51 L162.50,454.92 L163.45,455.33 L164.41,455.74 L165.37,456.15 L166.32,456.56 L167.28,456.98 L168.24,457.39 L169.20,457.80 L170.15,458.21 L171.11,458.61 L172.07,459.01 L173.02,459.41 L173.98,459.80 L174.94,460.19 L175.89,460.57 L176.85,460.94 L177.81,461.31 L178.76,461.66 L179.72,462.01 L180.68,462.35 L181.63,462.68 L182.59,463.00 L183.55,463.31 L184.51,463.61 L185.46,463.90 L186.42,464.18 L187.38,464.46 L188.33,464.73 L189.29,464.99 L190.25,465.26 L191.20,465.51 L192.16,465.77 L193.12,466.03 L194.07,466.28 L195.03,466.54 L195.99,466.80 L196.94,467.06 L197.90,467.32 L198.86,467.59 L199.81,467.86 L200.77,468.14 L201.73,468.42 L202.69,468.71 L203.64,468.99 L204.60,469.28 L205.56,469.57 L206.51,469.85 L207.47,470.13 L208.43,470.40 L209.38,470.67 L210.34,470.93 L211.30,471.18 L212.25,471.43 L213.21,471.68 L214.17,471.92 L215.12,472.15 L216.08,472.39 L217.04,472.61 L217.99,472.83 L218.95,473.05 L219.91,473.27 L220.87,473.48 L221.82,473.69 L222.78,473.90 L223.74,474.11 L224.69,474.32 L225.65,474.53 L226.61,474.73 L227.56,474.94 L228.52,475.15 L229.48,475.36 L230.43,475.56 L231.39,475.77 L232.35,475.98 L233.30,476.20 L234.26,476.41 L235.22,476.63 L236.18,476.85 L237.13,477.07 L238.09,477.29 L239.05,477.51 L240.00,477.74 L240.96,477.96 L241.92,478.19 L242.87,478.42 L243.83,478.65 L244.79,478.89 L245.74,479.12 L246.70,479.35 L247.66,479.59 L248.61,479.83 L249.57,480.06 L250.53,480.30 L251.48,480.54 L252.44,480.78 L253.40,481.02 L254.36,481.26 L255.31,481.50 L256.27,481.74 L257.23,481.98 L258.18,482.22 L259.14,482.47 L260.10,482.71 L261.05,482.96 L262.01,483.20 L262.97,483.44 L263.92,483.69 L264.88,483.94 L265.84,484.18 L266.79,484.43 L267.75,484.68 L268.71,484.92 L269.67,485.17 L270.62,485.42 L271.58,485.67 L272.54,485.91 L273.49,486.16 L274.45,486.41 L275.41,486.65 L276.36,486.90 L277.32,487.15 L278.28,487.39 L279.23,487.63 L280.19,487.88 L281.15,488.12 L282.10,488.36 L283.06,488.60 L284.02,488.84 L284.97,489.08 L285.93,489.32 L286.89,489.56 L287.85,489.80 L288.80,490.04 L289.76,490.28 L290.72,490.52 L291.67,490.76 L292.63,490.99 L293.59,491.23 L294.54,491.47 L295.50,491.71 L296.46,491.95 L297.41,492.18 L298.37,492.42 L299.33,492.65 L300.28,492.88 L301.24,493.11 L302.20,493.34 L303.16,493.57 L304.11,493.79 L305.07,494.02 L306.03,494.24 L306.98,494.46 L307.94,494.67 L308.90,494.89 L309.85,495.10 L310.81,495.31 L311.77,495.51 L312.72,495.71 L313.68,495.91 L314.64,496.11 L315.59,496.30 L316.55,496.49 L317.51,496.68 L318.46,496.86 L319.42,497.04 L320.38,497.22 L321.34,497.40 L322.29,497.58 L323.25,497.75 L324.21,497.92 L325.16,498.09 L326.12,498.26 L327.08,498.42 L328.03,498.58 L328.99,498.74 L329.95,498.90 L330.90,499.05 L331.86,499.21 L332.82,499.36 L333.77,499.51 L334.73,499.66 L335.69,499.81 L336.65,499.96 L337.60,500.11 L338.56,500.26 L339.52,500.40 L340.47,500.55 L341.43,500.69 L342.39,500.84 L343.34,500.98 L344.30,501.12" stroke="#5cbcb0" stroke-width="1.7" fill="none" stroke-linejoin="round"/>
<path d="M58.20,395.18 L59.16,397.44 L60.11,399.68 L61.07,401.87 L62.03,403.99 L62.98,406.03 L63.94,407.95 L64.90,409.74 L65.85,411.40 L66.81,412.95 L67.77,414.37 L68.73,415.68 L69.68,416.87 L70.64,417.95 L71.60,418.91 L72.55,419.74 L73.51,420.42 L74.47,420.94 L75.42,421.30 L76.38,421.48 L77.34,421.50 L78.29,421.39 L79.25,421.16 L80.21,420.83 L81.16,420.44 L82.12,419.99 L83.08,419.52 L84.04,419.04 L84.99,418.56 L85.95,418.09 L86.91,417.61 L87.86,417.14 L88.82,416.66 L89.78,416.18 L90.73,415.70 L91.69,415.22 L92.65,414.74 L93.60,414.27 L94.56,413.83 L95.52,413.41 L96.47,413.02 L97.43,412.66 L98.39,412.33 L99.34,412.04 L100.30,411.77 L101.26,411.53 L102.22,411.31 L103.17,411.13 L104.13,410.96 L105.09,410.83 L106.04,410.72 L107.00,410.64 L107.96,410.60 L108.91,410.59 L109.87,410.62 L110.83,410.69 L111.78,410.80 L112.74,410.96 L113.70,411.15 L114.65,411.37 L115.61,411.63 L116.57,411.92 L117.53,412.24 L118.48,412.58 L119.44,412.95 L120.40,413.33 L121.35,413.73 L122.31,414.15 L123.27,414.59 L124.22,415.04 L125.18,415.51 L126.14,416.00 L127.09,416.51 L128.05,417.04 L129.01,417.59 L129.96,418.17 L130.92,418.76 L131.88,419.37 L132.83,420.01 L133.79,420.67 L134.75,421.34 L135.71,422.04 L136.66,422.75 L137.62,423.48 L138.58,424.23 L139.53,425.00 L140.49,425.77 L141.45,426.55 L142.40,427.32 L143.36,428.08 L144.32,428.83 L145.27,429.55 L146.23,430.24 L147.19,430.91 L148.14,431.56 L149.10,432.20 L150.06,432.84 L151.02,433.47 L151.97,434.11 L152.93,434.74 L153.89,435.38 L154.84,436.02 L155.80,436.67 L156.76,437.32 L157.71,437.97 L158.67,438.63 L159.63,439.30 L160.58,439.98 L161.54,440.67 L162.50,441.36 L163.45,442.06 L164.41,442.76 L165.37,443.47 L166.32,444.17 L167.28,444.87 L168.24,445.57 L169.20,446.27 L170.15,446.95 L171.11,447.63 L172.07,448.29 L173.02,448.95 L173.98,449.59 L174.94,450.22 L175.89,450.84 L176.85,451.44 L177.81,452.04 L178.76,452.63 L179.72,453.21 L180.68,453.78 L181.63,454.34 L182.59,454.89 L183.55,455.43 L184.51,455.96 L185.46,456.48 L186.42,456.99 L187.38,457.48 L188.33,457.97 L189.29,458.44 L190.25,458.89 L191.20,459.33 L192.16,459.76 L193.12,460.17 L194.07,460.57 L195.03,460.95 L195.99,461.32 L196.94,461.67 L197.90,462.02 L198.86,462.35 L199.81,462.68 L200.77,463.00 L201.73,463.31 L202.69,463.61 L203.64,463.91 L204.60,464.21 L205.56,464.51 L206.51,464.82 L207.47,465.12 L208.43,465.43 L209.38,465.73 L210.34,466.04 L211.30,466.36 L212.25,466.67 L213.21,466.98 L214.17,467.29 L215.12,467.60 L216.08,467.91 L217.04,468.22 L217.99,468.52 L218.95,468.83 L219.91,469.13 L220.87,469.43 L221.82,469.74 L222.78,470.04 L223.74,470.35 L224.69,470.66 L225.65,470.97 L226.61,471.28 L227.56,471.59 L228.52,471.91 L229.48,472.23 L230.43,472.55 L231.39,472.87 L232.35,473.20 L233.30,473.52 L234.26,473.86 L235.22,474.19 L236.18,474.53 L237.13,474.87 L238.09,475.21 L239.05,475.55 L240.00,475.90 L240.96,476.25 L241.92,476.59 L242.87,476.94 L243.83,477.30 L244.79,477.65 L245.74,478.00 L246.70,478.35 L247.66,478.71 L248.61,479.06 L249.57,479.41 L250.53,479.76 L251.48,480.12 L252.44,480.47 L253.40,480.82 L254.36,481.16 L255.31,481.51 L256.27,481.86 L257.23,482.20 L258.18,482.54 L259.14,482.88 L260.10,483.22 L261.05,483.56 L262.01,483.89 L262.97,484.22 L263.92,484.55 L264.88,484.87 L265.84,485.19 L266.79,485.51 L267.75,485.82 L268.71,486.13 L269.67,486.44 L270.62,486.74 L271.58,487.04 L272.54,487.34 L273.49,487.63 L274.45,487.92 L275.41,488.20 L276.36,488.48 L277.32,488.75 L278.28,489.02 L279.23,489.28 L280.19,489.54 L281.15,489.79 L282.10,490.04 L283.06,490.28 L284.02,490.53 L284.97,490.76 L285.93,491.00 L286.89,491.24 L287.85,491.47 L288.80,491.71 L289.76,491.94 L290.72,492.18 L291.67,492.41 L292.63,492.65 L293.59,492.88 L294.54,493.12 L295.50,493.36 L296.46,493.59 L297.41,493.83 L298.37,494.06 L299.33,494.30 L300.28,494.53 L301.24,494.76 L302.20,494.99 L303.16,495.22 L304.11,495.45 L305.07,495.67 L306.03,495.90 L306.98,496.12 L307.94,496.33 L308.90,496.55 L309.85,496.76 L310.81,496.97 L311.77,497.17 L312.72,497.38 L313.68,497.57 L314.64,497.77 L315.59,497.96 L316.55,498.15 L317.51,498.34 L318.46,498.53 L319.42,498.71 L320.38,498.89 L321.34,499.07 L322.29,499.24 L323.25,499.41 L324.21,499.58 L325.16,499.75 L326.12,499.92 L327.08,500.08 L328.03,500.24 L328.99,500.40 L329.95,500.56 L330.90,500.72 L331.86,500.87 L332.82,501.02 L333.77,501.18 L334.73,501.33 L335.69,501.47 L336.65,501.62 L337.60,501.77 L338.56,501.92 L339.52,502.06 L340.47,502.21 L341.43,502.35 L342.39,502.50 L343.34,502.64 L344.30,502.79" stroke="#6a4440" stroke-width="1.7" fill="none" stroke-linejoin="round"/>
<path d="M58.20,407.75 L59.16,409.91 L60.11,412.04 L61.07,414.10 L62.03,416.05 L62.98,417.88 L63.94,419.53 L64.90,420.98 L65.85,422.24 L66.81,423.31 L67.77,424.19 L68.73,424.88 L69.68,425.40 L70.64,425.78 L71.60,426.02 L72.55,426.16 L73.51,426.20 L74.47,426.16 L75.42,426.05 L76.38,425.87 L77.34,425.63 L78.29,425.33 L79.25,424.98 L80.21,424.58 L81.16,424.14 L82.12,423.65 L83.08,423.12 L84.04,422.55 L84.99,421.94 L85.95,421.29 L86.91,420.61 L87.86,419.90 L88.82,419.15 L89.78,418.40 L90.73,417.64 L91.69,416.89 L92.65,416.17 L93.60,415.48 L94.56,414.83 L95.52,414.25 L96.47,413.73 L97.43,413.27 L98.39,412.86 L99.34,412.51 L100.30,412.20 L101.26,411.93 L102.22,411.69 L103.17,411.50 L104.13,411.32 L105.09,411.18 L106.04,411.07 L107.00,410.99 L107.96,410.95 L108.91,410.94 L109.87,410.98 L110.83,411.06 L111.78,411.19 L112.74,411.36 L113.70,411.57 L114.65,411.81 L115.61,412.09 L116.57,412.40 L117.53,412.74 L118.48,413.10 L119.44,413.48 L120.40,413.88 L121.35,414.29 L122.31,414.72 L123.27,415.16 L124.22,415.61 L125.18,416.08 L126.14,416.57 L127.09,417.08 L128.05,417.60 L129.01,418.15 L129.96,418.72 L130.92,419.31 L131.88,419.93 L132.83,420.56 L133.79,421.22 L134.75,421.89 L135.71,422.59 L136.66,423.30 L137.62,424.03 L138.58,424.78 L139.53,425.55 L140.49,426.33 L141.45,427.10 L142.40,427.88 L143.36,428.64 L144.32,429.38 L145.27,430.10 L146.23,430.79 L147.19,431.46 L148.14,432.12 L149.10,432.76 L150.06,433.39 L151.02,434.03 L151.97,434.66 L152.93,435.30 L153.89,435.93 L154.84,436.58 L155.80,437.22 L156.76,437.87 L157.71,438.53 L158.67,439.19 L159.63,439.86 L160.58,440.54 L161.54,441.22 L162.50,441.91 L163.45,442.61 L164.41,443.32 L165.37,444.02 L166.32,444.73 L167.28,445.43 L168.24,446.13 L169.20,446.82 L170.15,447.51 L171.11,448.18 L172.07,448.85 L173.02,449.50 L173.98,450.14 L174.94,450.77 L175.89,451.39 L176.85,452.00 L177.81,452.60 L178.76,453.18 L179.72,453.76 L180.68,454.33 L181.63,454.89 L182.59,455.44 L183.55,455.98 L184.51,456.51 L185.46,457.03 L186.42,457.54 L187.38,458.04 L188.33,458.52 L189.29,458.99 L190.25,459.45 L191.20,459.89 L192.16,460.31 L193.12,460.72 L194.07,461.12 L195.03,461.50 L195.99,461.87 L196.94,462.23 L197.90,462.57 L198.86,462.91 L199.81,463.23 L200.77,463.55 L201.73,463.86 L202.69,464.17 L203.64,464.47 L204.60,464.77 L205.56,465.07 L206.51,465.37 L207.47,465.68 L208.43,465.98 L209.38,466.29 L210.34,466.60 L211.30,466.92 L212.25,467.23 L213.21,467.54 L214.17,467.86 L215.12,468.17 L216.08,468.48 L217.04,468.79 L217.99,469.09 L218.95,469.40 L219.91,469.70 L220.87,470.01 L221.82,470.31 L222.78,470.62 L223.74,470.93 L224.69,471.23 L225.65,471.55 L226.61,471.86 L227.56,472.18 L228.52,472.49 L229.48,472.81 L230.43,473.14 L231.39,473.46 L232.35,473.79 L233.30,474.12 L234.26,474.45 L235.22,474.79 L236.18,475.13 L237.13,475.47 L238.09,475.81 L239.05,476.16 L240.00,476.51 L240.96,476.86 L241.92,477.21 L242.87,477.56 L243.83,477.91 L244.79,478.27 L245.74,478.62 L246.70,478.97 L247.66,479.33 L248.61,479.68 L249.57,480.04 L250.53,480.39 L251.48,480.75 L252.44,481.10 L253.40,481.45 L254.36,481.80 L255.31,482.15 L256.27,482.50 L257.23,482.84 L258.18,483.19 L259.14,483.53 L260.10,483.87 L261.05,484.20 L262.01,484.54 L262.97,484.87 L263.92,485.20 L264.88,485.52 L265.84,485.85 L266.79,486.16 L267.75,486.48 L268.71,486.79 L269.67,487.10 L270.62,487.40 L271.58,487.70 L272.54,488.00 L273.49,488.29 L274.45,488.58 L275.41,488.86 L276.36,489.14 L277.32,489.41 L278.28,489.68 L279.23,489.94 L280.19,490.20 L281.15,490.46 L282.10,490.70 L283.06,490.95 L284.02,491.19 L284.97,491.43 L285.93,491.67 L286.89,491.90 L287.85,492.14 L288.80,492.37 L289.76,492.61 L290.72,492.84 L291.67,493.08 L292.63,493.31 L293.59,493.55 L294.54,493.78 L295.50,494.02 L296.46,494.26 L297.41,494.49 L298.37,494.73 L299.33,494.96 L300.28,495.19 L301.24,495.43 L302.20,495.66 L303.16,495.89 L304.11,496.11 L305.07,496.34 L306.03,496.56 L306.98,496.78 L307.94,497.00 L308.90,497.21 L309.85,497.42 L310.81,497.63 L311.77,497.84 L312.72,498.04 L313.68,498.24 L314.64,498.44 L315.59,498.63 L316.55,498.82 L317.51,499.01 L318.46,499.19 L319.42,499.37 L320.38,499.55 L321.34,499.73 L322.29,499.91 L323.25,500.08 L324.21,500.25 L325.16,500.42 L326.12,500.58 L327.08,500.75 L328.03,500.91 L328.99,501.07 L329.95,501.22 L330.90,501.38 L331.86,501.54 L332.82,501.69 L333.77,501.84 L334.73,501.99 L335.69,502.14 L336.65,502.29 L337.60,502.43 L338.56,502.58 L339.52,502.73 L340.47,502.87 L341.43,503.02 L342.39,503.16 L343.34,503.31 L344.30,503.45" stroke="#9c9a4c" stroke-width="1.7" fill="none" stroke-linejoin="round"/>
<path d="M58.20,407.75 L59.16,409.91 L60.11,412.04 L61.07,414.10 L62.03,416.05 L62.98,417.87 L63.94,419.53 L64.90,420.98 L65.85,422.24 L66.81,423.31 L67.77,424.19 L68.73,424.89 L69.68,425.42 L70.64,425.79 L71.60,426.04 L72.55,426.17 L73.51,426.20 L74.47,426.14 L75.42,425.99 L76.38,425.75 L77.34,425.42 L78.29,424.99 L79.25,424.48 L80.21,423.86 L81.16,423.15 L82.12,422.34 L83.08,421.42 L84.04,420.40 L84.99,419.27 L85.95,418.04 L86.91,416.69 L87.86,415.23 L88.82,413.68 L89.78,412.07 L90.73,410.44 L91.69,408.85 L92.65,407.32 L93.60,405.90 L94.56,404.62 L95.52,403.53 L96.47,402.63 L97.43,401.87 L98.39,401.23 L99.34,400.65 L100.30,400.10 L101.26,399.60 L102.22,399.15 L103.17,398.75 L104.13,398.42 L105.09,398.16 L106.04,397.98 L107.00,397.89 L107.96,397.89 L108.91,397.97 L109.87,398.13 L110.83,398.35 L111.78,398.64 L112.74,398.98 L113.70,399.36 L114.65,399.80 L115.61,400.29 L116.57,400.83 L117.53,401.41 L118.48,402.05 L119.44,402.73 L120.40,403.47 L121.35,404.25 L122.31,405.08 L123.27,405.95 L124.22,406.87 L125.18,407.83 L126.14,408.82 L127.09,409.85 L128.05,410.91 L129.01,411.99 L129.96,413.10 L130.92,414.23 L131.88,415.38 L132.83,416.53 L133.79,417.69 L134.75,418.84 L135.71,419.99 L136.66,421.12 L137.62,422.23 L138.58,423.31 L139.53,424.37 L140.49,425.40 L141.45,426.42 L142.40,427.45 L143.36,428.49 L144.32,429.55 L145.27,430.65 L146.23,431.79 L147.19,432.95 L148.14,434.11 L149.10,435.26 L150.06,436.38 L151.02,437.45 L151.97,438.48 L152.93,439.46 L153.89,440.40 L154.84,441.29 L155.80,442.16 L156.76,442.99 L157.71,443.79 L158.67,444.57 L159.63,445.32 L160.58,446.06 L161.54,446.78 L162.50,447.49 L163.45,448.18 L164.41,448.85 L165.37,449.52 L166.32,450.17 L167.28,450.80 L168.24,451.42 L169.20,452.02 L170.15,452.62 L171.11,453.19 L172.07,453.76 L173.02,454.30 L173.98,454.84 L174.94,455.36 L175.89,455.86 L176.85,456.36 L177.81,456.83 L178.76,457.30 L179.72,457.75 L180.68,458.18 L181.63,458.60 L182.59,459.01 L183.55,459.41 L184.51,459.79 L185.46,460.16 L186.42,460.52 L187.38,460.87 L188.33,461.21 L189.29,461.54 L190.25,461.87 L191.20,462.19 L192.16,462.50 L193.12,462.81 L194.07,463.11 L195.03,463.41 L195.99,463.71 L196.94,464.01 L197.90,464.31 L198.86,464.60 L199.81,464.90 L200.77,465.20 L201.73,465.50 L202.69,465.80 L203.64,466.11 L204.60,466.41 L205.56,466.72 L206.51,467.03 L207.47,467.34 L208.43,467.65 L209.38,467.96 L210.34,468.27 L211.30,468.59 L212.25,468.90 L213.21,469.21 L214.17,469.52 L215.12,469.83 L216.08,470.14 L217.04,470.45 L217.99,470.75 L218.95,471.06 L219.91,471.36 L220.87,471.67 L221.82,471.97 L222.78,472.28 L223.74,472.59 L224.69,472.90 L225.65,473.21 L226.61,473.52 L227.56,473.84 L228.52,474.16 L229.48,474.48 L230.43,474.80 L231.39,475.12 L232.35,475.45 L233.30,475.78 L234.26,476.11 L235.22,476.45 L236.18,476.79 L237.13,477.13 L238.09,477.47 L239.05,477.82 L240.00,478.17 L240.96,478.52 L241.92,478.87 L242.87,479.22 L243.83,479.57 L244.79,479.93 L245.74,480.28 L246.70,480.64 L247.66,480.99 L248.61,481.35 L249.57,481.70 L250.53,482.06 L251.48,482.41 L252.44,482.76 L253.40,483.11 L254.36,483.46 L255.31,483.81 L256.27,484.16 L257.23,484.50 L258.18,484.85 L259.14,485.19 L260.10,485.53 L261.05,485.87 L262.01,486.20 L262.97,486.53 L263.92,486.86 L264.88,487.18 L265.84,487.51 L266.79,487.83 L267.75,488.14 L268.71,488.45 L269.67,488.76 L270.62,489.07 L271.58,489.37 L272.54,489.66 L273.49,489.95 L274.45,490.24 L275.41,490.52 L276.36,490.80 L277.32,491.07 L278.28,491.34 L279.23,491.61 L280.19,491.86 L281.15,492.12 L282.10,492.37 L283.06,492.61 L284.02,492.85 L284.97,493.09 L285.93,493.33 L286.89,493.56 L287.85,493.80 L288.80,494.03 L289.76,494.27 L290.72,494.50 L291.67,494.74 L292.63,494.97 L293.59,495.21 L294.54,495.45 L295.50,495.68 L296.46,495.92 L297.41,496.15 L298.37,496.39 L299.33,496.62 L300.28,496.86 L301.24,497.09 L302.20,497.32 L303.16,497.55 L304.11,497.77 L305.07,498.00 L306.03,498.22 L306.98,498.44 L307.94,498.66 L308.90,498.87 L309.85,499.09 L310.81,499.29 L311.77,499.50 L312.72,499.70 L313.68,499.90 L314.64,500.10 L315.59,500.29 L316.55,500.48 L317.51,500.67 L318.46,500.85 L319.42,501.04 L320.38,501.22 L321.34,501.39 L322.29,501.57 L323.25,501.74 L324.21,501.91 L325.16,502.08 L326.12,502.24 L327.08,502.41 L328.03,502.57 L328.99,502.73 L329.95,502.89 L330.90,503.04 L331.86,503.20 L332.82,503.35 L333.77,503.50 L334.73,503.65 L335.69,503.80 L336.65,503.95 L337.60,504.10 L338.56,504.24 L339.52,504.39 L340.47,504.53 L341.43,504.68 L342.39,504.82 L343.34,504.97 L344.30,505.11" stroke="#ec623a" stroke-width="1.7" fill="none" stroke-linejoin="round"/>
<rect x="222.4" y="304.5" width="118.2" height="126" fill="#fff" stroke="#bbb" stroke-width="1"/>
<path d="M222.4,311.60h24" stroke="#505050" stroke-width="1.6"/>
<text x="249.2" y="315.20" font-size="10">AgNP</text>
<path d="M222.4,324.04h24" stroke="#d86676" stroke-width="1.6"/>
<text x="249.2" y="327.64" font-size="10">AgNP + Hg (pH 3.8)</text>
<path d="M222.4,336.48h24" stroke="#48529a" stroke-width="1.6"/>
<text x="249.2" y="340.08" font-size="10">AgNP + Hg (pH 2)</text>
<path d="M222.4,348.92h24" stroke="#55a07a" stroke-width="1.6"/>
<text x="249.2" y="352.52" font-size="10">AgNP + Hg (pH 3)</text>
<path d="M222.4,361.36h24" stroke="#9c80bc" stroke-width="1.6"/>
<text x="249.2" y="364.96" font-size="10">AgNP + Hg (pH 4)</text>
<path d="M222.4,373.80h24" stroke="#cca04c" stroke-width="1.6"/>
<text x="249.2" y="377.40" font-size="10">AgNP + Hg (pH 5)</text>
<path d="M222.4,386.24h24" stroke="#5cbcb0" stroke-width="1.6"/>
<text x="249.2" y="389.84" font-size="10">AgNP + Hg (pH 6)</text>
<path d="M222.4,398.68h24" stroke="#6a4440" stroke-width="1.6"/>
<text x="249.2" y="402.28" font-size="10">AgNP + Hg (pH 7)</text>
<path d="M222.4,411.12h24" stroke="#9c9a4c" stroke-width="1.6"/>
<text x="249.2" y="414.72" font-size="10">AgNP + Hg (pH 8)</text>
<path d="M222.4,423.56h24" stroke="#ec623a" stroke-width="1.6"/>
<text x="249.2" y="427.16" font-size="10">AgNP + Hg (pH 9)</text>
<text x="201" y="570" text-anchor="middle" font-size="14.5" textLength="108" lengthAdjust="spacingAndGlyphs">Wavelength (nm)</text>
<text transform="translate(18.3,417) rotate(-90)" text-anchor="middle" font-size="14" textLength="75" lengthAdjust="spacingAndGlyphs">Absorbance</text>
<text x="65.8" y="317" font-family='"Liberation Serif", serif' font-weight="bold" font-size="18">c</text>
<rect x="407.70" y="301.30" width="292.40" height="227.30" fill="none" stroke="#666" stroke-width="1.3"/>
<path d="M407.70,528.60v4M440.19,528.60v4M472.68,528.60v4M505.17,528.60v4M537.66,528.60v4M570.14,528.60v4M602.63,528.60v4M635.12,528.60v4M667.61,528.60v4M700.10,528.60v4M423.94,528.60v2.5M456.43,528.60v2.5M488.92,528.60v2.5M521.41,528.60v2.5M553.90,528.60v2.5M586.39,528.60v2.5M618.88,528.60v2.5M651.37,528.60v2.5M683.86,528.60v2.5M407.70,528.60h-4M407.70,483.14h-4M407.70,437.68h-4M407.70,392.22h-4M407.70,346.76h-4M407.70,301.30h-4M407.70,505.87h-2.5M407.70,460.41h-2.5M407.70,414.95h-2.5M407.70,369.49h-2.5M407.70,324.03h-2.5" stroke="#666" stroke-width="1.3" fill="none"/>
<text x="407.70" y="545.10" text-anchor="middle" font-size="11">1</text>
<text x="440.19" y="545.10" text-anchor="middle" font-size="11">2</text>
<text x="472.68" y="545.10" text-anchor="middle" font-size="11">3</text>
<text x="505.17" y="545.10" text-anchor="middle" font-size="11">4</text>
<text x="537.66" y="545.10" text-anchor="middle" font-size="11">5</text>
<text x="570.14" y="545.10" text-anchor="middle" font-size="11">6</text>
<text x="602.63" y="545.10" text-anchor="middle" font-size="11">7</text>
<text x="635.12" y="545.10" text-anchor="middle" font-size="11">8</text>
<text x="667.61" y="545.10" text-anchor="middle" font-size="11">9</text>
<text x="700.10" y="545.10" text-anchor="middle" font-size="11">10</text>
<text x="400.20" y="532.60" text-anchor="end" font-size="12">0.40</text>
<text x="400.20" y="487.14" text-anchor="end" font-size="12">0.45</text>
<text x="400.20" y="441.68" text-anchor="end" font-size="12">0.50</text>
<text x="400.20" y="396.22" text-anchor="end" font-size="12">0.55</text>
<text x="400.20" y="350.76" text-anchor="end" font-size="12">0.60</text>
<text x="400.20" y="305.30" text-anchor="end" font-size="12">0.65</text>
<path d="M440.19,369.31 L472.68,358.49 L505.17,335.39 L537.66,351.31 L570.14,370.31 L602.63,481.14 L635.12,470.87 L667.61,494.96" stroke="#2a2a2a" stroke-width="1.5" fill="none"/>
<rect x="437.19" y="366.71" width="6" height="6" fill="#3b4a9b"/>
<rect x="469.68" y="355.89" width="6" height="6" fill="#3b4a9b"/>
<rect x="502.17" y="332.79" width="6" height="6" fill="#3b4a9b"/>
<rect x="534.66" y="348.71" width="6" height="6" fill="#3b4a9b"/>
<rect x="567.14" y="367.71" width="6" height="6" fill="#3b4a9b"/>
<rect x="599.63" y="478.54" width="6" height="6" fill="#3b4a9b"/>
<rect x="632.12" y="468.27" width="6" height="6" fill="#3b4a9b"/>
<rect x="664.61" y="492.36" width="6" height="6" fill="#3b4a9b"/>
<text x="552.9" y="567" text-anchor="middle" font-size="14">pH</text>
<text transform="translate(370,415.9) rotate(-90)" text-anchor="middle" font-size="14">Δabsorbance</text>
<text x="416.8" y="323.7" font-family='"Liberation Serif", serif' font-weight="bold" font-size="18">d</text>
</svg>
</body></html>
